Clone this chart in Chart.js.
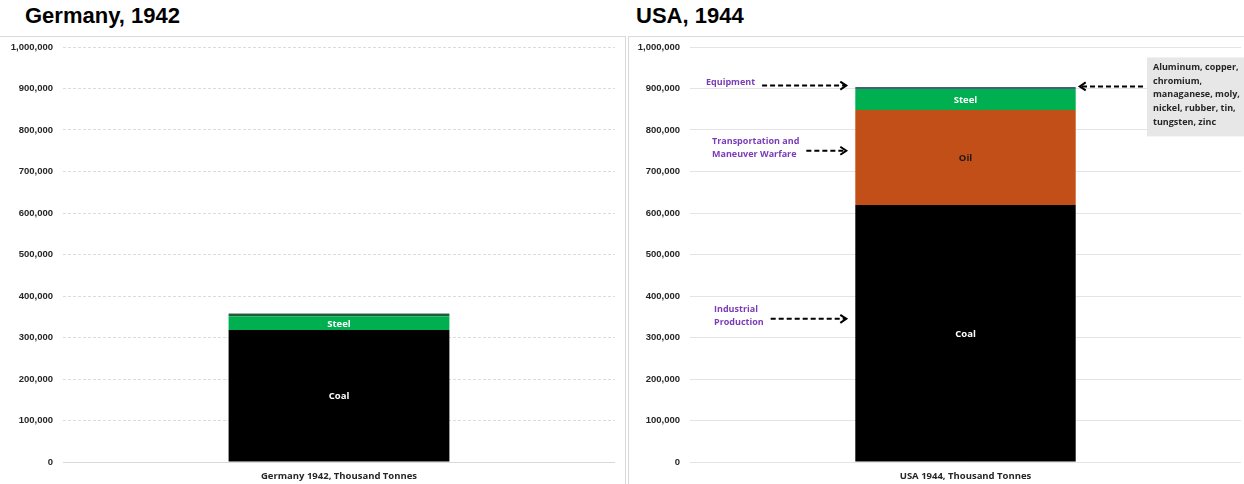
<!DOCTYPE html>
<html><head><meta charset="utf-8">
<script src="https://cdn.jsdelivr.net/npm/chart.js@4.4.1/dist/chart.umd.min.js"></script>
<style>
html,body{margin:0;padding:0;background:#fff;width:1244px;height:484px;overflow:hidden;font-family:"Liberation Sans",Arial,sans-serif;}
.title{position:absolute;top:3px;font-weight:bold;font-size:22px;color:#000;}
.panel{position:absolute;top:36px;height:448px;border-top:1px solid #d9d9d9;box-sizing:border-box;}
#pl{left:0;width:626px;border-right:1px solid #d9d9d9;}
#pr{left:628px;width:616px;border-left:1px solid #d9d9d9;}
canvas{position:absolute;}
</style></head><body>
<div class="title" style="left:25px">Germany, 1942</div>
<div class="title" style="left:636px">USA, 1944</div>
<div class="panel" id="pl"><canvas id="c1"></canvas></div>
<div class="panel" id="pr"><canvas id="c2"></canvas></div>
<script>
// ---- data ----
const germanyCategory = ["Germany 1942, Thousand Tonnes"];
const usaCategory = ["USA 1944, Thousand Tonnes"];
const seriesNames = ["Coal", "Oil", "Steel", "Equipment", "Alloys"];
const germanyValues = [318000, 0, 33000, 5500, 1500];
const usaValues = [619000, 229000, 51000, 0, 4500];
const seriesColors = ["#000000", "#c14f17", "#00b050", "#1f5e35", "#44607a"];
const labelColors = ["#ffffff", "#1a1a1a", "#ffffff", null, null];
const yTicks = [0, 100000, 200000, 300000, 400000, 500000, 600000, 700000, 800000, 900000, 1000000];
// annotation texts and the values they point to
const annLeftTexts = [["Equipment"], ["Transportation and", "Maneuver Warfare"], ["Industrial", "Production"]];
const annLeftValues = [907000, 750000, 345000];
const annBoxText = ["Aluminum, copper,", "chromium,", "managanese, moly,", "nickel, rubber, tin,", "tungsten, zinc"];
const annBoxValue = 905000;

function datasets(vals){
  return seriesNames.map((n,i)=>({label:n,data:[vals[i]],backgroundColor:seriesColors[i],
    borderWidth:0,categoryPercentage:1,barPercentage:0.4}));
}
const fmt = v => v.toLocaleString('en-US');

const segLabels = {
  id:'segLabels',
  afterDatasetsDraw(chart){
    const ctx=chart.ctx;
    ctx.save();
    ctx.font='bold 9.5px "Open Sans", sans-serif';
    ctx.textAlign='center';ctx.textBaseline='middle';
    chart.data.datasets.forEach((ds,i)=>{
      if(!labelColors[i]||!ds.data[0]) return;
      const el=chart.getDatasetMeta(i).data[0];
      ctx.fillStyle=labelColors[i];
      ctx.fillText(ds.label, el.x, (el.y+el.base)/2+1);
    });
    ctx.restore();
  }
};

const zeroLine = {
  id:'zeroLine',
  beforeDatasetsDraw(chart){
    const ctx=chart.ctx, a=chart.chartArea, y=Math.round(chart.scales.y.getPixelForValue(0))+0.5;
    ctx.save();ctx.strokeStyle='#d9d9d9';ctx.lineWidth=1;
    ctx.beginPath();ctx.moveTo(a.left,y);ctx.lineTo(a.right,y);ctx.stroke();ctx.restore();
  }
};

function arrow(ctx,x1,x2,y){
  ctx.save();
  ctx.strokeStyle='#000';ctx.lineWidth=2;ctx.setLineDash([5,3]);
  ctx.beginPath();ctx.moveTo(x1,y);ctx.lineTo(x2,y);ctx.stroke();
  ctx.setLineDash([]);
  const d = x2>x1?1:-1;
  ctx.beginPath();ctx.moveTo(x2-d*6,y-4);ctx.lineTo(x2,y);ctx.lineTo(x2-d*6,y+4);ctx.stroke();
  ctx.restore();
}

const annotations = {
  id:'annotations',
  afterDraw(chart){
    const ctx=chart.ctx, y=chart.scales.y;
    const bar=chart.getDatasetMeta(0).data[0];
    const bl = bar.x - bar.width/2, br = bar.x + bar.width/2;
    ctx.save();
    ctx.font='bold 9px "Open Sans", sans-serif';
    ctx.textBaseline='middle';ctx.textAlign='left';
    const xs=[77,83,85];
    annLeftTexts.forEach((lines,i)=>{
      const py=y.getPixelForValue(annLeftValues[i]);
      ctx.fillStyle='#7a3cb8';
      const off=(lines.length-1)*13.5/2;
      lines.forEach((t,j)=>ctx.fillText(t, xs[i], py-off+j*13.5-3));
      const tw=Math.max(...lines.map(t=>ctx.measureText(t).width));
      arrow(ctx, xs[i]+tw+7, bl-9, py);
    });
    // box on right
    const py=y.getPixelForValue(annBoxValue);
    const bx=518, by=py-29;
    ctx.fillStyle='#e7e7e7';ctx.fillRect(bx,by,100,79);
    ctx.fillStyle='#262626';
    annBoxText.forEach((t,j)=>ctx.fillText(t,bx+6,by+10+j*13.7));
    arrow(ctx, bx-4, br+4, py);
    ctx.restore();
  }
};

function makeChart(id, w, h, cat, vals, dashed, yWidth, padRight, extra){
  const cv=document.getElementById(id);
  cv.width=w;cv.height=h;cv.style.width=w+'px';cv.style.height=h+'px';
  return new Chart(cv,{
    type:'bar',
    data:{labels:cat,datasets:datasets(vals)},
    options:{
      responsive:false,animation:false,
      layout:{padding:{top:10,right:padRight,left:0,bottom:0}},
      plugins:{legend:{display:false},tooltip:{enabled:false}},
      scales:{
        x:{stacked:true,grid:{display:false},border:{display:false},
          afterFit:a=>{a.height=22;},
          ticks:{color:'#262626',font:{family:'"Open Sans", sans-serif',weight:'bold',size:9.5},padding:1}},
        y:{stacked:true,min:0,max:1000000,
          afterBuildTicks:a=>{a.ticks=yTicks.map(v=>({value:v}));},
          afterFit:a=>{a.width=yWidth;a.paddingTop=0;a.paddingBottom=0;},
          border:{display:false,dash:dashed?[3,2]:[]},
          grid:{color:ctx=>(dashed&&ctx.tick&&ctx.tick.value===0)?'rgba(0,0,0,0)':(dashed?'#dcdcdc':'#e4e4e4'),lineWidth:1,drawTicks:false},
          ticks:{color:'#262626',padding:10,font:{family:'"Liberation Sans", Arial, sans-serif',weight:'bold',size:9.5},callback:v=>fmt(v)}}
      }
    },
    plugins:[segLabels].concat(extra)
  });
}
const c1 = makeChart('c1', 624, 447, germanyCategory, germanyValues, true, 63, 9, [zeroLine]);
const c2 = makeChart('c2', 615, 447, usaCategory, usaValues, false, 61, 3, [annotations]);
</script>
</body></html>
